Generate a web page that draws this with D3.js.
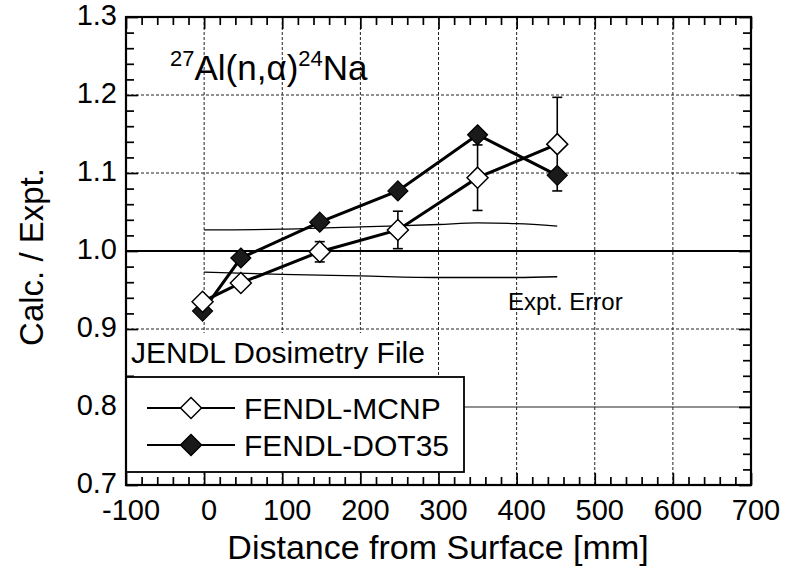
<!DOCTYPE html>
<html><head><meta charset="utf-8">
<script src="https://cdn.jsdelivr.net/npm/d3@7"></script>
<style>body{margin:0;background:#fff}svg{display:block;font-family:"Liberation Sans",Arial,Helvetica,sans-serif}</style>
</head><body><svg id="c" width="798" height="572"></svg>
<script>
const distances = [-2, 47, 148, 248, 350, 452];
const mcnp = [0.935, 0.959, 0.999, 1.027, 1.094, 1.137];
const mcnpErr = [0, 0, 0.013, 0.024, 0.042, 0.06];
const dot35 = [0.923, 0.991, 1.037, 1.077, 1.149, 1.097];
const errX = [0, 100, 200, 300, 350, 400, 452];
const errUpper = [1.027, 1.028, 1.031, 1.034, 1.036, 1.035, 1.032];
const errLower = [0.973, 0.970, 0.968, 0.966, 0.966, 0.966, 0.967];
const xTicks = [-100, 0, 100, 200, 300, 400, 500, 600, 700];
const yTicks = [0.7, 0.8, 0.9, 1.0, 1.1, 1.2, 1.3];
const seriesNames = ["FENDL-MCNP", "FENDL-DOT35"];

const svg = d3.select("#c");
const L = 126, R = 751, T = 17, B = 485;
const x = d3.scaleLinear().domain([-100, 700]).range([L, R]);
const y = d3.scaleLinear().domain([0.7, 1.3]).range([B, T]);

// grid
const g = svg.append("g");
g.selectAll(".vg").data(xTicks.slice(1, -1)).join("line")
  .attr("x1", d => x(d)).attr("x2", d => x(d)).attr("y1", T).attr("y2", B)
  .attr("stroke", "#222").attr("stroke-width", 1).attr("stroke-dasharray", "3,2");
g.selectAll(".hg").data(yTicks.slice(1, -1)).join("line")
  .attr("x1", L).attr("x2", R).attr("y1", d => y(d)).attr("y2", d => y(d))
  .attr("stroke", d => d === 1.0 ? "#000" : "#222")
  .attr("stroke-width", d => d === 1.0 ? 2 : 1)
  .attr("stroke-dasharray", d => (d === 1.0 || d === 0.8) ? null : "3,2");

// Expt. error band curves
const eLine = d3.line().x((d, i) => x(errX[i])).y(d => y(d)).curve(d3.curveMonotoneX);
svg.append("path").attr("d", eLine(errUpper)).attr("fill", "none").attr("stroke", "#000").attr("stroke-width", 1.3);
svg.append("path").attr("d", eLine(errLower)).attr("fill", "none").attr("stroke", "#000").attr("stroke-width", 1.3);
svg.append("text").attr("x", 508).attr("y", 310).attr("font-size", 24).text("Expt. Error");

// inward ticks on all four sides via d3 axes
const xMinor = d3.range(-100, 701, 20).filter(v => v % 100 !== 0);
const yMinor = d3.range(0, 31).map(i => +(0.7 + i * 0.02).toFixed(2)).filter(v => Math.abs(v * 10 - Math.round(v * 10)) > 1e-6);
function tickAxis(axisFn, scale, vals, len, tx, ty) {
  const a = svg.append("g").attr("transform", `translate(${tx},${ty})`)
    .call(axisFn(scale).tickValues(vals).tickSize(len).tickFormat(""));
  a.select(".domain").remove();
  a.selectAll(".tick line").attr("stroke", "#000").attr("stroke-width", 1.7);
  return a;
}
tickAxis(d3.axisBottom, x, xTicks, -12, 0, B);
tickAxis(d3.axisBottom, x, xMinor, -8, 0, B);
tickAxis(d3.axisTop, x, xTicks, -12, 0, T);
tickAxis(d3.axisTop, x, xMinor, -8, 0, T);
tickAxis(d3.axisLeft, y, yTicks, -12, L, 0);
tickAxis(d3.axisLeft, y, yMinor, -8, L, 0);
tickAxis(d3.axisRight, y, yTicks, -12, R, 0);
tickAxis(d3.axisRight, y, yMinor, -8, R, 0);

// JENDL label box
svg.append("rect").attr("x", L + 1).attr("y", 333).attr("width", 309).attr("height", 42).attr("fill", "#fff");
svg.append("text").attr("x", 131).attr("y", 363).attr("font-size", 30).text("JENDL Dosimetry File");

// series lines
const line = d3.line().x((d, i) => x(distances[i])).y(d => y(d));
svg.append("path").attr("d", line(mcnp)).attr("fill", "none").attr("stroke", "#000").attr("stroke-width", 3);
svg.append("path").attr("d", line(dot35)).attr("fill", "none").attr("stroke", "#000").attr("stroke-width", 3);

// error bars
const eb = svg.append("g");
mcnp.forEach((v, i) => {
  const e = mcnpErr[i];
  if (!e) return;
  const cx = x(distances[i]);
  [[cx, cx, y(v - e), y(v + e)], [cx - 5, cx + 5, y(v - e), y(v - e)], [cx - 5, cx + 5, y(v + e), y(v + e)]]
    .forEach(s => eb.append("line").attr("x1", s[0]).attr("x2", s[1]).attr("y1", s[2]).attr("y2", s[3])
      .attr("stroke", "#000").attr("stroke-width", 1.6));
});

const diamond = (cx, cy, r) => `M${cx},${cy - r}L${cx + r},${cy}L${cx},${cy + r}L${cx - r},${cy}Z`;
svg.append("g").selectAll("path").data(dot35).join("path")
  .attr("d", (d, i) => diamond(x(distances[i]), y(d), 10))
  .attr("fill", "#1a1a1a").attr("stroke", "#000").attr("stroke-width", 1.2);
svg.append("g").selectAll("path").data(mcnp).join("path")
  .attr("d", (d, i) => diamond(x(distances[i]), y(d), 10.5))
  .attr("fill", "#fff").attr("stroke", "#000").attr("stroke-width", 1.5);

// legend
const lg = svg.append("g");
lg.append("rect").attr("x", L).attr("y", 377).attr("width", 338).attr("height", 95)
  .attr("fill", "#fff").attr("stroke", "#000").attr("stroke-width", 1.8);
[408, 445].forEach((ly, i) => {
  lg.append("line").attr("x1", 147).attr("x2", 235).attr("y1", ly).attr("y2", ly).attr("stroke", "#000").attr("stroke-width", 1.8);
  lg.append("path").attr("d", diamond(191, ly, 10.5))
    .attr("fill", i === 0 ? "#fff" : "#1a1a1a").attr("stroke", "#000").attr("stroke-width", 1.5);
  lg.append("text").attr("x", 244).attr("y", ly + 11).attr("font-size", 30).text(seriesNames[i]);
});

// frame
svg.append("rect").attr("x", L).attr("y", T).attr("width", R - L).attr("height", B - T)
  .attr("fill", "none").attr("stroke", "#000").attr("stroke-width", 2.2);

// tick labels
svg.append("g").selectAll("text").data(xTicks).join("text")
  .attr("x", d => x(d) + 5).attr("y", 520).attr("text-anchor", "middle").attr("font-size", 29)
  .text(d => d);
svg.append("g").selectAll("text").data(yTicks).join("text")
  .attr("x", 117).attr("y", d => y(d) + 8).attr("text-anchor", "end").attr("font-size", 29)
  .text(d => d.toFixed(1));

// axis titles
svg.append("text").attr("x", 438).attr("y", 559).attr("text-anchor", "middle").attr("font-size", 34)
  .text("Distance from Surface [mm]");
svg.append("text").attr("transform", "translate(43,257) rotate(-90)").attr("text-anchor", "middle")
  .attr("font-size", 33).text("Calc. / Expt.");

// reaction title
const t = svg.append("text").attr("x", 170).attr("y", 80).attr("font-size", 35);
t.append("tspan").attr("font-size", 22).attr("dy", -14).text("27");
t.append("tspan").attr("dy", 14).text("Al(n,α)");
t.append("tspan").attr("font-size", 22).attr("dy", -14).text("24");
t.append("tspan").attr("dy", 14).text("Na");
</script></body></html>
